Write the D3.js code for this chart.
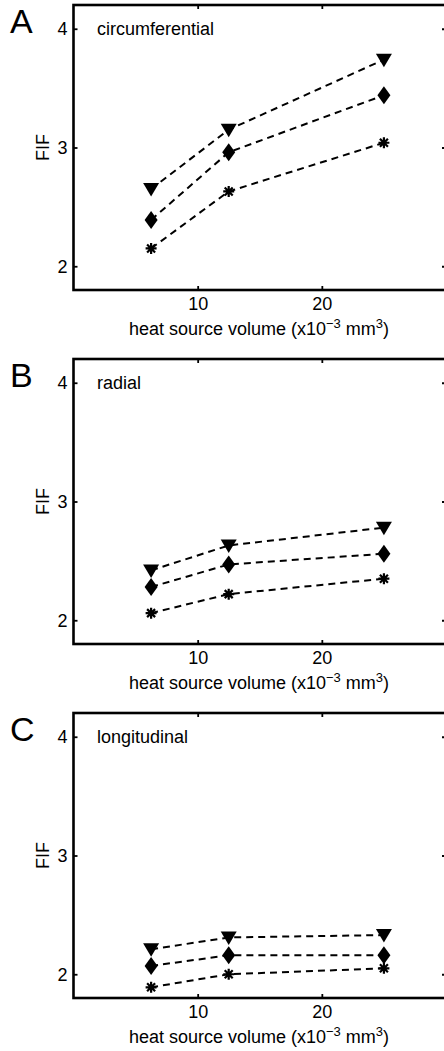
<!DOCTYPE html>
<html>
<head>
  <title>FIF vs heat source volume</title>
  <script src="https://d3js.org/d3.v7.min.js"></script>
  <style>
    body { margin: 0; background: #fff; }
    text { font-family: "Liberation Sans", Arial, sans-serif; fill: #000; }
  </style>
</head>
<body>
<div id="chart"></div>
<script>

// x positions (heat source volume, x10^-3 mm^3)
var volumes = [6.25, 12.5, 25];
var xTicks = [10, 20];
var yTicks = [2, 3, 4];

var panelLetters = ["A", "B", "C"];
var panelNames = ["circumferential", "radial", "longitudinal"];

// FIF values
var triA = [2.65, 3.15, 3.74];
var diaA = [2.39, 2.96, 3.44];
var starA = [2.15, 2.63, 3.04];

var triB = [2.42, 2.63, 2.78];
var diaB = [2.28, 2.47, 2.56];
var starB = [2.06, 2.22, 2.35];

var triC = [2.21, 2.31, 2.33];
var diaC = [2.07, 2.16, 2.16];
var starC = [1.89, 2.00, 2.05];

var panelSeries = [
  [triA, diaA, starA],
  [triB, diaB, starB],
  [triC, diaC, starC]
];
var markerTypes = ["tri", "dia", "star"];

var width = 444, height = 1051;
var panelTops = [5, 359, 713];
var panelH = 285;
var left = 73.5, right = 446;
var fs = "18px";

var svg = d3.select("#chart").append("svg")
  .attr("width", width)
  .attr("height", height);

var x = d3.scaleLinear().domain([0, 30]).range([left, right]);

panelTops.forEach(function(top, p) {
  var y = d3.scaleLinear().domain([1.8, 4.2]).range([top + panelH, top]);
  var g = svg.append("g");

  // box
  g.append("rect")
    .attr("x", left).attr("y", top)
    .attr("width", right - left).attr("height", panelH)
    .attr("fill", "none").attr("stroke", "#000").attr("stroke-width", 2.6);

  // axes with inward ticks
  var yAxis = g.append("g")
    .attr("transform", "translate(" + left + ",0)")
    .call(d3.axisLeft(y).tickValues(yTicks).tickFormat(d3.format("d")).tickSizeInner(-4).tickSizeOuter(0).tickPadding(6));
  var yAxisR = g.append("g")
    .attr("transform", "translate(" + right + ",0)")
    .call(d3.axisRight(y).tickValues(yTicks).tickFormat("").tickSizeInner(-4).tickSizeOuter(0));
  var xAxis = g.append("g")
    .attr("transform", "translate(0," + (top + panelH) + ")")
    .call(d3.axisBottom(x).tickValues(xTicks).tickFormat(d3.format("d")).tickSizeInner(-4).tickSizeOuter(0).tickPadding(7));
  var xAxisT = g.append("g")
    .attr("transform", "translate(0," + top + ")")
    .call(d3.axisTop(x).tickValues(xTicks).tickFormat("").tickSizeInner(-4).tickSizeOuter(0));

  [yAxis, yAxisR, xAxis, xAxisT].forEach(function(a) {
    a.select(".domain").remove();
    a.selectAll("line").attr("stroke", "#000").attr("stroke-width", 1.8);
    a.selectAll("text").style("font-size", fs).attr("font-family", null);
  });

  // panel letter
  g.append("text")
    .attr("x", 10).attr("y", top + 28)
    .style("font-size", "34px")
    .text(panelLetters[p]);

  // panel name
  g.append("text")
    .attr("x", 97).attr("y", top + 30)
    .style("font-size", fs)
    .text(panelNames[p]);

  // y label
  g.append("text")
    .attr("transform", "translate(49," + (top + panelH / 2) + ") rotate(-90)")
    .attr("text-anchor", "middle")
    .style("font-size", fs)
    .text("FIF");

  // x label
  var xl = g.append("text")
    .attr("x", 259).attr("y", top + panelH + 45)
    .attr("text-anchor", "middle")
    .style("font-size", fs);
  xl.append("tspan").text("heat source volume (x10");
  xl.append("tspan").attr("dy", -7).style("font-size", "13px").text("\u22123");
  xl.append("tspan").attr("dy", 7).text(" mm");
  xl.append("tspan").attr("dy", -7).style("font-size", "13px").text("3");
  xl.append("tspan").attr("dy", 7).text(")");

  // series
  panelSeries[p].forEach(function(vals, s) {
    var pts = vals.map(function(v, i) { return [volumes[i], v]; });

    g.append("path")
      .datum(pts)
      .attr("fill", "none")
      .attr("stroke", "#000")
      .attr("stroke-width", 2)
      .attr("stroke-dasharray", "7,5")
      .attr("d", d3.line()
        .x(function(d) { return x(d[0]); })
        .y(function(d) { return y(d[1]); }));

    var m = g.selectAll(".m" + s).data(pts).enter().append("g")
      .attr("transform", function(d) { return "translate(" + x(d[0]) + "," + y(d[1]) + ")"; });

    if (markerTypes[s] === "tri") {
      m.append("path").attr("d", "M-8,-6L8,-6L0,7.5Z").attr("fill", "#000");
    } else if (markerTypes[s] === "dia") {
      m.append("path").attr("d", "M0,-9L6.5,0L0,9L-6.5,0Z").attr("fill", "#000");
    } else {
      m.append("path")
        .attr("d", "M-5.5,0L5.5,0M0,-5.5L0,5.5M-4,-4L4,4M-4,4L4,-4")
        .attr("stroke", "#000").attr("stroke-width", 2.2).attr("fill", "none");
    }
  });
});

</script>
</body>
</html>
